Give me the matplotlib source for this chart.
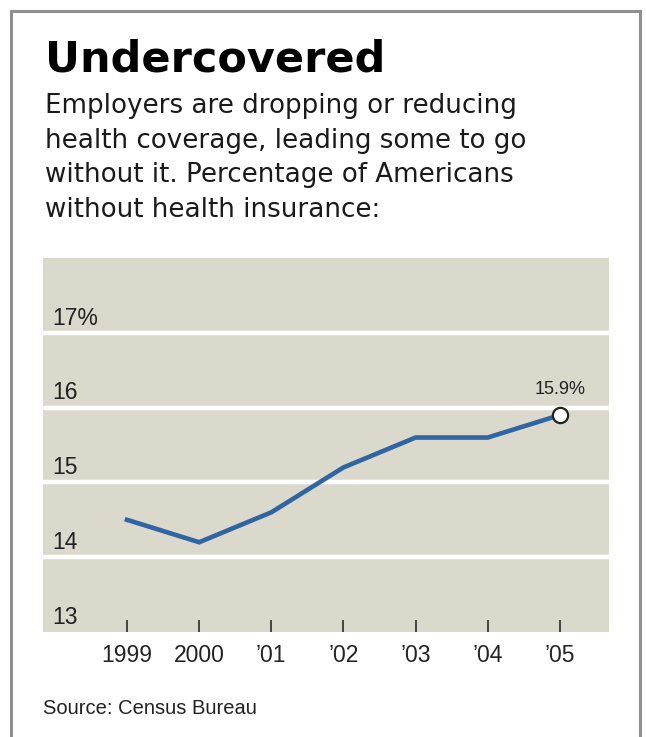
import matplotlib
matplotlib.use("Agg")
import matplotlib.pyplot as plt
from matplotlib.patches import Rectangle
from matplotlib.transforms import blended_transform_factory

# data
YEARS = [1999, 2000, 2001, 2002, 2003, 2004, 2005]
YEAR_LABELS = ["1999", "2000", "\u201901", "\u201902", "\u201903", "\u201904", "\u201905"]
UNINSURED = [14.5, 14.2, 14.6, 15.2, 15.6, 15.6, 15.9]
Y_GRID = [14, 15, 16, 17]
Y_LABELS = {13: "13", 14: "14", 15: "15", 16: "16", 17: "17%"}
LONG_TICKS = [2000, 2005]

TITLE = "Undercovered"
SUBTITLE = [
    "Employers are dropping or reducing",
    "health coverage, leading some to go",
    "without it. Percentage of Americans",
    "without health insurance:",
]
SOURCE = "Source: Census Bureau"

# style
W, H = 646, 737
PANEL_BG = "#dbd8cc"
LINE_COLOR = "#2e65a2"
NARROW = ["Liberation Sans", "DejaVu Sans"]

fig = plt.figure(figsize=(W / 100, H / 100), dpi=100)
fig.patch.set_facecolor("white")

# outer frame
fig.add_artist(Rectangle((11 / W, -0.05), (640 - 11) / W, 1.05 - 11 / H,
                         transform=fig.transFigure, fill=False,
                         edgecolor="#8f8f8f", linewidth=2.2, clip_on=False))

# panel
ax = fig.add_axes([43 / W, 1 - 632 / H, (609 - 43) / W, (632 - 258) / H])
ax.set_facecolor(PANEL_BG)
for s in ax.spines.values():
    s.set_visible(False)
ax.set_xlim(1997.836, 2005.68)
ax.set_ylim(13, 18)

for g in Y_GRID:
    ax.axhline(g, color="white", linewidth=3.2, zorder=1)

ax.plot(YEARS, UNINSURED, color=LINE_COLOR, linewidth=3.3,
        solid_joinstyle="miter", zorder=3)
ax.plot(YEARS[-1], UNINSURED[-1], marker="o", markersize=11,
        markerfacecolor="white", markeredgecolor="#222222",
        markeredgewidth=1.6, zorder=4)
ax.annotate(f"{UNINSURED[-1]}%", (YEARS[-1], UNINSURED[-1]),
            xytext=(0, 15), textcoords="offset points",
            ha="center", va="baseline", fontsize=13, family=NARROW,
            color="#222222")

# y labels inside panel
trans = blended_transform_factory(ax.transAxes, ax.transData)
for v, lab in Y_LABELS.items():
    ax.text(0.016, v + 0.11, lab, transform=trans, ha="left", va="baseline",
            fontsize=16.5, family=NARROW, color="#222222")
ax.set_yticks([])

# x ticks
ax.set_xticks(YEARS)
ax.set_xticklabels(YEAR_LABELS, family=NARROW, fontsize=16.5, color="#222222")
ax.set_xticks(LONG_TICKS, minor=True)
ax.tick_params(axis="x", which="major", direction="in", length=8.6,
               width=1.4, color="#444444", pad=9)
ax.tick_params(axis="x", which="minor", direction="in", length=13,
               width=1.4, color="#444444", labelbottom=False)

# headline texts
fig.text(45 / W, 1 - 72 / H, TITLE, fontsize=31, fontweight="bold",
         family="DejaVu Sans", ha="left", va="baseline", color="black")
for i, line in enumerate(SUBTITLE):
    fig.text(45 / W, 1 - (113 + i * 34.7) / H, line, fontsize=18.8,
             family="DejaVu Sans", ha="left", va="baseline", color="#1a1a1a")

fig.text(43 / W, 1 - 714 / H, SOURCE, fontsize=14.5, family=NARROW,
         ha="left", va="baseline", color="#222222")

fig.savefig("out.png", dpi=100)
